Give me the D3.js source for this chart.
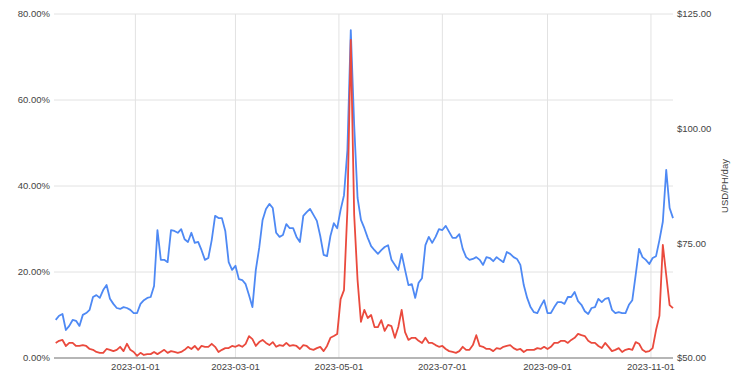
<!DOCTYPE html>
<html>
<head>
<meta charset="utf-8">
<script src="https://cdn.jsdelivr.net/npm/d3@7"></script>
<style>
  body { margin: 0; background: #fff; }
  svg text { font-family: Arial, "Liberation Sans", sans-serif; fill: #444; }
</style>
</head>
<body>
<svg id="chart" width="750" height="375"></svg>
<script>
// daily readings every 2nd day, first one on 2022-11-15
var firstDay = "2022-11-15"
var stepDays = 2

// hashprice, USD/PH/day (right axis)
var hashprice = [
  58.3, 59.2, 59.6, 56.1, 57.0, 58.3, 58.1, 57.0, 59.4, 59.8,
  60.5, 63.3, 63.7, 63.1, 64.8, 65.9, 62.9, 61.8, 60.9, 60.7,
  61.1, 60.9, 60.5, 59.8, 59.8, 61.8, 62.6, 63.1, 63.3, 65.7,
  77.9, 71.4, 71.4, 70.9, 77.9, 77.7, 77.3, 78.1, 75.9, 75.3,
  77.3, 75.1, 75.3, 73.5, 71.4, 71.8, 75.7, 81.0, 80.5, 80.5,
  77.7, 70.9, 69.2, 70.1, 67.2, 67.0, 66.1, 63.7, 61.1, 69.2,
  74.0, 80.1, 82.5, 83.6, 82.7, 77.3, 76.4, 76.8, 79.2, 78.3,
  78.3, 76.4, 75.3, 81.0, 81.8, 82.5, 81.2, 79.9, 76.6, 72.5,
  72.2, 76.6, 79.4, 78.3, 82.3, 85.5, 95.3, 121.5, 100.8, 84.9,
  80.1, 78.3, 76.2, 74.4, 73.5, 72.7, 73.5, 74.2, 74.6, 71.4,
  70.3, 69.2, 72.7, 69.2, 65.9, 66.1, 63.1, 66.4, 67.4, 74.6,
  76.4, 75.1, 76.4, 78.1, 77.9, 78.8, 77.5, 76.2, 76.2, 77.0,
  73.8, 72.0, 71.4, 71.6, 72.0, 71.4, 70.3, 72.0, 71.8, 71.1,
  72.0, 71.4, 70.9, 73.1, 72.7, 72.0, 71.6, 70.3, 65.9, 63.1,
  61.1, 60.0, 59.8, 61.3, 62.6, 59.8, 59.8, 61.1, 62.2, 62.2,
  61.8, 63.3, 63.3, 64.4, 62.4, 61.6, 60.2, 59.6, 60.9, 61.1,
  62.9, 62.2, 62.9, 63.1, 60.5, 59.8, 60.0, 59.8, 59.8, 61.6,
  62.6, 68.1, 73.8, 72.0, 71.4, 70.5, 71.8, 72.2, 75.7, 79.7,
  91.0, 82.7, 80.5
]

// fees share of block reward (left axis)
var feeShare = [
  3.5, 4.0, 4.2, 2.8, 3.5, 3.5, 2.8, 2.8, 3.0, 2.8,
  2.1, 1.9, 1.4, 1.2, 1.2, 2.1, 1.9, 1.6, 1.9, 2.6,
  1.6, 3.3, 1.9, 1.4, 0.5, 1.2, 0.7, 0.9, 0.9, 1.4,
  0.9, 1.4, 1.9, 1.2, 1.6, 1.4, 1.2, 1.4, 1.9, 2.6,
  2.1, 2.8, 1.9, 2.8, 2.6, 2.6, 3.3, 2.6, 1.4, 1.9,
  2.3, 2.3, 2.8, 2.6, 3.0, 2.6, 3.3, 5.1, 4.4, 2.8,
  3.7, 4.2, 3.5, 3.0, 3.7, 2.6, 3.0, 2.8, 3.5, 2.8,
  3.0, 2.8, 2.1, 3.0, 2.8, 2.1, 1.9, 2.3, 2.6, 1.6,
  2.8, 4.7, 5.1, 5.6, 13.7, 15.8, 34.4, 74.0, 33.3, 18.1,
  8.4, 11.2, 9.3, 10.0, 7.2, 7.2, 8.8, 6.3, 7.7, 7.4,
  4.7, 7.2, 11.2, 6.0, 4.2, 4.7, 4.7, 4.0, 3.5, 4.7,
  3.5, 3.5, 3.0, 2.6, 2.8, 2.1, 1.6, 1.4, 1.2, 1.6,
  2.6, 1.9, 1.9, 3.0, 5.3, 2.8, 2.6, 2.1, 2.1, 1.6,
  2.3, 2.1, 2.6, 2.8, 3.0, 2.3, 1.9, 2.1, 1.4, 1.9,
  1.9, 1.9, 2.3, 2.1, 2.6, 2.1, 2.6, 3.5, 3.5, 4.0,
  4.0, 3.5, 4.2, 4.7, 5.6, 5.3, 5.1, 4.0, 3.5, 3.5,
  2.8, 2.3, 3.5, 2.6, 1.6, 1.9, 2.3, 1.4, 1.9, 2.1,
  1.9, 3.7, 3.3, 1.9, 1.4, 1.6, 2.3, 6.5, 9.8, 26.3,
  19.3, 12.3, 11.6
]

var xDomain = ["2022-11-14", "2023-11-14"]
var xTicks = ["2023-01-01", "2023-03-01", "2023-05-01", "2023-07-01", "2023-09-01", "2023-11-01"]
var leftTicks = [0, 0.2, 0.4, 0.6, 0.8]
var rightTicks = [50, 75, 100, 125]
var rightTitle = "USD/PH/day"

var margin = { left: 54, right: 77, top: 14, bottom: 17 }
var width = 750, height = 375
var svg = d3.select("#chart")
var parse = d3.utcParse("%Y-%m-%d")

var start = parse(firstDay)
var dates = hashprice.map(function(d, i) {
  return d3.utcDay.offset(start, i * stepDays)
})

var x = d3.scaleUtc()
  .domain(xDomain.map(parse))
  .range([margin.left, width - margin.right])
var yLeft = d3.scaleLinear().domain([0, 0.8]).range([height - margin.bottom, margin.top])
var yRight = d3.scaleLinear().domain([50, 125]).range([height - margin.bottom, margin.top])

// gridlines
svg.append("g")
  .selectAll("line.h")
  .data(leftTicks.slice(1))
  .enter().append("line")
  .attr("x1", margin.left).attr("x2", width - margin.right)
  .attr("y1", function(d) { return yLeft(d) }).attr("y2", function(d) { return yLeft(d) })
  .attr("stroke", "#e2e2e2").attr("stroke-width", 1)

svg.append("g")
  .selectAll("line.v")
  .data(xTicks)
  .enter().append("line")
  .attr("x1", function(d) { return x(parse(d)) }).attr("x2", function(d) { return x(parse(d)) })
  .attr("y1", margin.top).attr("y2", height - margin.bottom)
  .attr("stroke", "#e2e2e2").attr("stroke-width", 1)

// left axis labels
var fmtPct = d3.format(".2%")
svg.append("g")
  .selectAll("text")
  .data(leftTicks)
  .enter().append("text")
  .attr("x", margin.left - 4)
  .attr("y", function(d) { return yLeft(d) })
  .attr("dy", "0.35em")
  .attr("text-anchor", "end")
  .attr("font-size", 9.5)
  .text(function(d) { return fmtPct(d) })

// right axis labels
var fmtUsd = d3.format(".2f")
svg.append("g")
  .selectAll("text")
  .data(rightTicks)
  .enter().append("text")
  .attr("x", width - margin.right + 4)
  .attr("y", function(d) { return yRight(d) })
  .attr("dy", "0.35em")
  .attr("text-anchor", "start")
  .attr("font-size", 9.5)
  .text(function(d) { return "$" + fmtUsd(d) })

// date labels
svg.append("g")
  .selectAll("text")
  .data(xTicks)
  .enter().append("text")
  .attr("x", function(d) { return x(parse(d)) })
  .attr("y", height - margin.bottom + 12)
  .attr("text-anchor", "middle")
  .attr("font-size", 9.5)
  .text(function(d) { return d })

svg.append("text")
  .attr("transform", "translate(725," + (margin.top + (height - margin.top - margin.bottom) / 2) + ") rotate(-90)")
  .attr("text-anchor", "middle")
  .attr("dy", "0.35em")
  .attr("font-size", 9.5)
  .text(rightTitle)

// baseline
svg.append("line")
  .attr("x1", margin.left).attr("x2", width - margin.right)
  .attr("y1", yLeft(0)).attr("y2", yLeft(0))
  .attr("stroke", "#9e9e9e").attr("stroke-width", 1.3)

var lineHash = d3.line()
  .x(function(d, i) { return x(dates[i]) })
  .y(function(d) { return yRight(d) })
var lineFee = d3.line()
  .x(function(d, i) { return x(dates[i]) })
  .y(function(d) { return yLeft(d / 100) })

svg.append("path")
  .datum(hashprice)
  .attr("d", lineHash)
  .attr("fill", "none")
  .attr("stroke", "#4e89f4")
  .attr("stroke-width", 1.8)
  .attr("stroke-linejoin", "round")

svg.append("path")
  .datum(feeShare)
  .attr("d", lineFee)
  .attr("fill", "none")
  .attr("stroke", "#ea4a3d")
  .attr("stroke-width", 1.8)
  .attr("stroke-linejoin", "round")
</script>
</body>
</html>
